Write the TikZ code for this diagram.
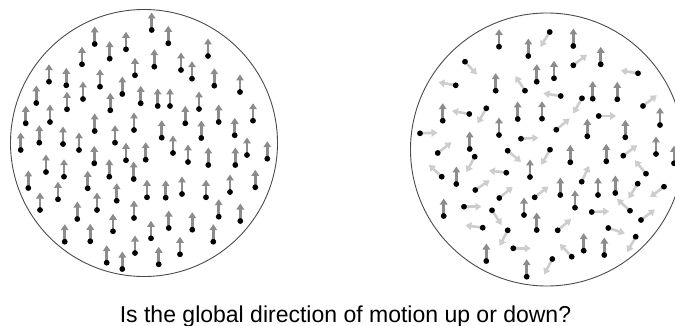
\documentclass[tikz,border=0pt]{standalone}
\usepackage{fontspec}
\setmainfont{Liberation Sans}
\usetikzlibrary{arrows.meta}
\definecolor{cohgray}{HTML}{8C8C8C}
\definecolor{noisegray}{HTML}{CDCDCD}
\definecolor{rimgray}{HTML}{4A4A4A}
\tikzset{
  rim/.style={draw=rimgray, line width=0.9pt},
  motion/.style={line width=2.6pt, -{Triangle[width=7.5pt,length=6pt]}},
  cohmotion/.style={motion, draw=cohgray, fill=cohgray},
  noisemotion/.style={motion, draw=noisegray, fill=noisegray},
  dot/.style={fill=black},
}
\begin{document}
\begin{tikzpicture}[x=1pt,y=1pt]
\useasboundingbox (0,0) rectangle (675,-326);
\clip (0,0) rectangle (675,-326);

% left field: every dot moves up
\draw[rim] (144,-143) circle (133.5);
\foreach \x/\y in {151.7/30, 94.7/44, 168.3/43.3, 126/49.3, 109.7/58.7, 208/56, 82/64.3, 154.3/66.7, 181/70, 135/75.3, 192/78.7, 49/81.7, 66.3/85.3, 100/86.7, 214.3/85.7, 122.3/94, 83/99, 240/92, 36.3/103, 67/109.3, 110.3/110.3, 140.7/103.3, 157.7/106, 170/106, 199/109, 25.7/123.3, 50/122, 185.3/123.3, 218.7/122, 253/120.7, 94.7/131, 134/130, 161.7/137.7, 201.3/138, 234.7/135.3, 20.7/150, 39.3/142.7, 63/144, 79/150, 115/142.7, 173/153, 247/155, 267.3/158.7, 126/160.3, 145.7/159.7, 188/162, 208.3/165, 235.3/165, 94.3/163.3, 46/172, 64/176.7, 109.3/176.7, 133.7/179, 28.3/188, 87.7/188.3, 58/199.3, 116.7/200.7, 147/197.3, 165.7/197.7, 182/194, 206/197.3, 230/192, 255.3/187.3, 40/210, 97/210, 77.3/219, 134/218, 218.7/216.7, 240.3/221, 113/231.3, 151/238.3, 168.7/228, 192.3/229.7, 213.3/241.7, 64.7/241.7, 90.3/241.3, 135/253, 180/254.3, 106.7/262.7, 122.3/269, 158.7/264.3}
{
  \draw[cohmotion] (\x,-\y) ++(90:2) -- ++(90:15.5);
  \fill[dot] (\x,-\y) circle (2.9);
}

% right field: some dots move up, the rest in random directions
\draw[rim] (547,-149.5) circle (136.5);
\foreach \x/\y/\a in {549.7/32/238, 573.3/65.3/38, 465/61.7/-47, 638/73.3/171, 455.7/85.3/170, 525/90.7/123, 560.7/96/171, 582/98.3/240, 643/106/38, 486.3/108.3/240, 469.3/114/170, 598.7/116/0, 420/133.3/2, 556.3/129.7/40, 521/138.7/3, 437.7/153/38, 474.7/156.7/242, 507.7/150.7/-40, 550/149.7/240, 623.3/155.7/37, 441.7/176.7/137, 506.3/172.7/173, 646/173.7/130, 475.3/190/34, 499.3/198/40, 534.7/197.3/38, 581.7/181.7/65, 637.7/183.7/238, 664/186.7/217, 464/206.7/0, 492/210.3/-57, 591.7/212/2, 630/210.7/138, 641/220/37, 482.7/227.7/172, 507.7/230.3/243, 557.7/230.3/40, 608.3/228/-18, 635.7/236.7/241, 513.3/248.3/0, 571.7/256.7/133, 552.3/259/242}
{
  \draw[noisemotion] (\x,-\y) ++(\a:2) -- ++(\a:15.5);
  \fill[dot] (\x,-\y) circle (2.9);
}
\foreach \x/\y in {499/46.7, 573.3/46, 528.3/56, 600.7/64.3, 536.7/81.7, 554/78.3, 495.7/90.7, 592.7/98.7, 617.3/99.3, 442.7/120.7, 517.7/119, 542/118.7, 660/125, 499/135, 587.3/136.3, 625.3/137.3, 469.7/149, 570.3/162.3, 606.3/161.3, 656/154, 674/163.3, 456.3/184, 530/177, 560.3/195, 598/195, 615.3/193, 443.7/216, 524/215, 575/207.7, 536.7/230, 486.3/261, 583.7/250.7, 604.3/255, 526.7/276.7}
{
  \draw[cohmotion] (\x,-\y) ++(90:2) -- ++(90:15.5);
  \fill[dot] (\x,-\y) circle (2.9);
}

\node[anchor=base, font=\fontsize{23}{27}\selectfont, inner sep=0pt] (question) at (345.5,-322)
  {Is the global direction of motion up or down?};
\end{tikzpicture}
\end{document}
